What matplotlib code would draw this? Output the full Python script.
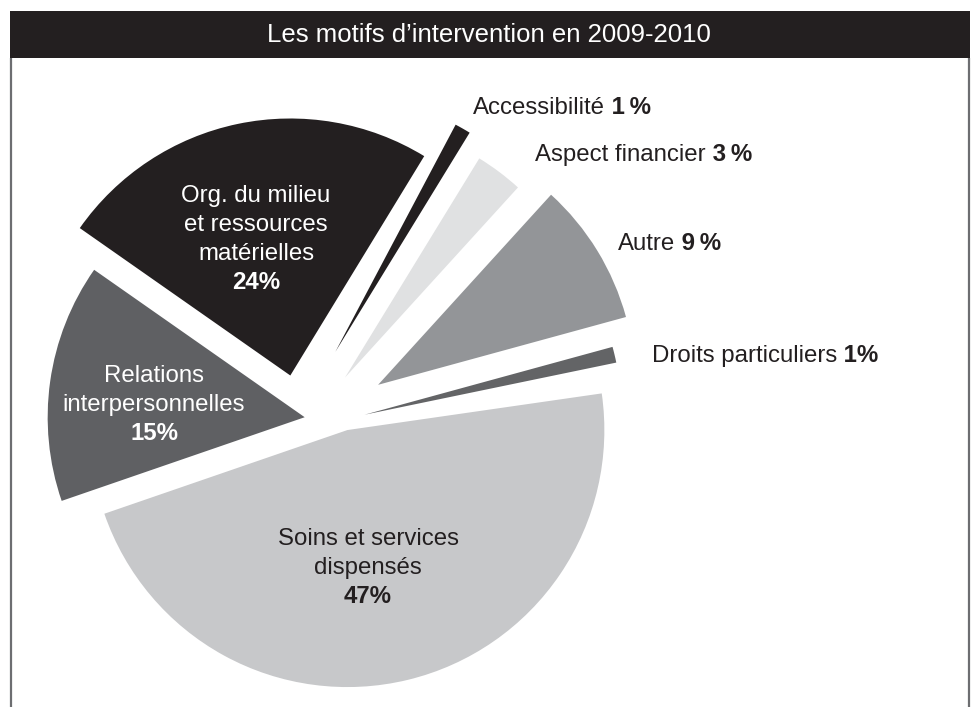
import numpy as np
import matplotlib.pyplot as plt
from matplotlib.patches import Rectangle

# figure size in pixels
W, H = 976, 707

# the data, slice order is clockwise starting with "Soins"
categories = ['Soins et services dispensés', 'Droits particuliers', 'Autre',
              'Aspect financier', 'Accessibilité',
              'Org. du milieu et ressources matérielles',
              'Relations interpersonnelles']
percents = [47, 1, 9, 3, 1, 24, 15]
colors = ['#c7c8ca', '#636466', '#939598', '#e0e1e2', '#231f20', '#231f20', '#5f6063']
title = 'Les motifs d\u2019intervention en 2009-2010'

# layout, in pixels (axes use image coordinates, y down)
radius = 257
centre = (314, 415.5)
explode = [22, 50, 71, 49, 65, 44, 9]   # along the bisector
nudge = [-29, 8, 3, -1, -17, -15, -3]   # across the bisector
turn = [0, 3.5, 3.5, 3.5, 3.5, 0, 0]    # the small slices are drawn a bit rotated

plt.rcParams['font.family'] = ['Liberation Sans', 'DejaVu Sans']
fs = 17.3

fig = plt.figure(figsize=(W / 100, H / 100), dpi=100)
ax = fig.add_axes([0, 0, 1, 1])

wedges, _ = ax.pie(percents, colors=colors, radius=radius, center=centre,
                   explode=explode, startangle=-199, counterclock=False,
                   wedgeprops=dict(linewidth=0, antialiased=True))

# the slices are not pushed out from one common point, shift them sideways
for w, t, d in zip(wedges, nudge, turn):
    mid = np.deg2rad(0.5 * (w.theta1 + w.theta2))
    cx, cy = w.center
    w.set_center((cx - t * np.sin(mid), cy + t * np.cos(mid)))
    # y axis is inverted, so a visual counter-clockwise turn is negative here
    w.set_theta1(w.theta1 - d)
    w.set_theta2(w.theta2 - d)

ax.set_xlim(0, W)
ax.set_ylim(H, 0)
ax.set_aspect('equal')
ax.axis('off')

# title bar and frame
ax.add_patch(Rectangle((10, 11), 960, 47, facecolor='#231f20', edgecolor='none'))
ax.text(489, 35, title, color='white', ha='center', va='center', fontsize=18.5)
ax.plot([11, 11], [58, H], color='#6d6e71', lw=1.6, solid_capstyle='butt')
ax.plot([968.5, 968.5], [58, H], color='#6d6e71', lw=1.6, solid_capstyle='butt')


def inside(x, y0, lines, color, step=29):
    '''label inside a slice, the last line (the percent) in bold'''
    for i, line in enumerate(lines):
        bold = i == len(lines) - 1
        ax.text(x, y0 + i * step, line, color=color, ha='center', va='baseline',
                fontsize=fs, fontweight='bold' if bold else 'normal')


def outside(x, y, name, value):
    '''label outside the pie, name in normal weight followed by bold percent'''
    t = ax.text(x, y, name, color='#231f20', ha='left', va='bottom', fontsize=fs)
    ax.annotate(' ' + value, xy=(1, 0), xycoords=t, ha='left', va='bottom',
                color='#231f20', fontsize=fs, fontweight='bold')


inside(256, 202, ['Org. du milieu', 'et ressources', 'matérielles',
                  '{}%'.format(percents[5])], 'white')
inside(154, 382, ['Relations', 'interpersonnelles', '{}%'.format(percents[6])], 'white')
inside(368, 545, ['Soins et services', 'dispensés', '{}%'.format(percents[0])], '#231f20')

outside(473, 119, 'Accessibilité', '{}\u2009%'.format(percents[4]))
outside(535, 166, 'Aspect financier', '{}\u2009%'.format(percents[3]))
outside(618, 255, 'Autre', '{}\u2009%'.format(percents[2]))
outside(652, 367, 'Droits particuliers', '{}%'.format(percents[1]))

fig.savefig('out.png', dpi=100)
